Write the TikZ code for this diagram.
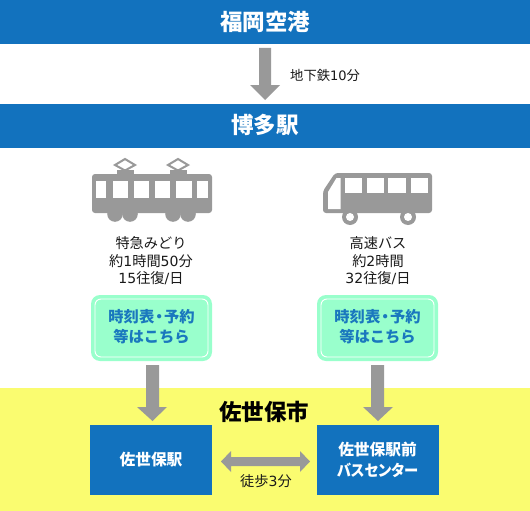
\documentclass[tikz,border=0pt]{standalone}
\usepackage{fontspec}
\setmainfont{Noto Sans CJK JP}
\newfontfamily\dgfont{DejaVu Sans}
\newcommand{\dg}[1]{{\dgfont\fontsize{14}{17.5}\selectfont #1}}
\newcommand{\dgs}[1]{{\dgfont\fontsize{13}{17.5}\selectfont #1}}
\definecolor{bandblue}{HTML}{1272BE}
\definecolor{arrowgray}{HTML}{999999}
\definecolor{mintg}{HTML}{99FFCC}
\definecolor{yell}{HTML}{FAFC70}
\definecolor{btntext}{HTML}{1A78BE}
\tikzset{
  band/.style={fill=bandblue,draw=none},
  bandtext/.style={text=white,font=\bfseries\fontsize{22.5}{24}\selectfont,inner sep=0pt},
  bluebox/.style={fill=bandblue,draw=none,minimum width=122pt,minimum height=70pt,inner sep=0pt,text=white,align=center,font=\bfseries\fontsize{15.7}{21}\selectfont},
  note/.style={text=black!90,align=center,inner sep=0pt,font=\fontsize{14.2}{17.5}\selectfont},
  notesmall/.style={text=black!90,align=center,inner sep=0pt,font=\fontsize{13.3}{17.5}\selectfont},
  btn/.style={fill=mintg,draw=none,rounded corners=9pt,minimum width=121pt,minimum height=66pt,inner sep=0pt},
  btntxt/.style={text=btntext,align=center,inner sep=0pt,font=\bfseries\fontsize{15.3}{20}\selectfont},
  garrow/.style={fill=arrowgray,draw=none},
  icon/.style={fill=arrowgray,draw=none},
  hole/.style={fill=white,draw=none},
}
\newcommand{\nardot}{\hspace{-2.8pt}・\hspace{-2.8pt}}
\begin{document}
\begin{tikzpicture}[x=1pt,y=-1pt]
\useasboundingbox (0,0) rectangle (530,511);
\fill[white] (0,0) rectangle (530,511);
\fill[yell] (0,388) rectangle (530,511);
\fill[band] (0,0) rectangle (530,44);
\fill[band] (0,104) rectangle (530,148);
\node[bandtext] (fukuoka) at (265,22) {福岡空港};
\node[bandtext] (hakata) at (265,125) {博多駅};
% top arrow
\fill[garrow] (259,48) -- (271,48) -- (271,85) -- (280,85) -- (265,100) -- (250,85) -- (259,85) -- cycle;
\node[notesmall,anchor=west] (subway) at (290,75) {地下鉄\dgs{10}分};
% train
\foreach \c in {125,178}{
  \draw[arrowgray,line width=2pt,fill=white] (\c-10,165) -- (\c,159) -- (\c+10,165) -- (\c,170.5) -- cycle;
  \fill[icon] (\c-8.5,170) rectangle (\c+8.5,175);
}
\foreach \c in {115,130,173,188}{ \fill[icon] (\c,214) circle (7.8); }
\fill[icon,rounded corners=3pt] (92,174) rectangle (212,213);
\foreach \a/\b in {96/106,113/128,134/149,155/170,176/192,197/208}{ \fill[hole] (\a,181) rectangle (\b,198); }
% bus
\fill[icon,rounded corners=3pt] (335,173) -- (432,173) -- (432,213) -- (323,213) -- (323,191) -- cycle;
\foreach \a/\b in {345/362,367/384,388/406,411/428}{ \fill[hole] (\a,178) rectangle (\b,193); }
\fill[hole] (336.5,178) -- (340.5,178) -- (340.5,209) -- (328,209) -- (328,192) -- cycle;
\foreach \c in {350,408}{
  \fill[icon] (\c,217) circle (8);
  \fill[hole] (\c,217) circle (4);
}
% captions
\node[note] (trainlabel) at (151,261) {特急みどり\\約\dg{1}時間\dg{50}分\\\dg{15}往復\dg{/}日};
\node[note] (buslabel) at (378,261) {高速バス\\約\dg{2}時間\\\dg{32}往復\dg{/}日};
% buttons
\node[btn] (btnL) at (151.5,328) {};
\node[btn] (btnR) at (377.5,328) {};
\draw[white,line width=0.9pt,rounded corners=6pt] (95,299) rectangle (208,357);
\draw[white,line width=0.9pt,rounded corners=6pt] (321,299) rectangle (434,357);
\node[btntxt] (btnLt) at (151.5,327) {時刻表\nardot 予約\\等はこちら};
\node[btntxt] (btnRt) at (377.5,327) {時刻表\nardot 予約\\等はこちら};
% arrows down
\fill[garrow] (146,365) -- (159,365) -- (159,407) -- (167,407) -- (152.5,421) -- (137,407) -- (146,407) -- cycle;
\fill[garrow] (371,365) -- (384,365) -- (384,407) -- (393,407) -- (378,421) -- (363,407) -- (371,407) -- cycle;
\node[inner sep=0pt,text=black,font=\bfseries\fontsize{22.5}{24}\selectfont] (sasebo) at (264,412) {佐世保市};
\node[bluebox] (st) at (151,460) {佐世保駅};
\node[bluebox] (bc) at (377.5,460) {佐世保駅前\\\scalebox{0.91}[1]{\addfontfeature{RawFeature=+palt}バスセンター}};
% double arrow
\fill[garrow] (221,461.5) -- (231,451) -- (231,457) -- (300,457) -- (300,451) -- (310,461.5) -- (300,472) -- (300,466) -- (231,466) -- (231,472) -- cycle;
\node[note] (walk) at (266,481) {徒歩\dg{3}分};
\end{tikzpicture}
\end{document}
